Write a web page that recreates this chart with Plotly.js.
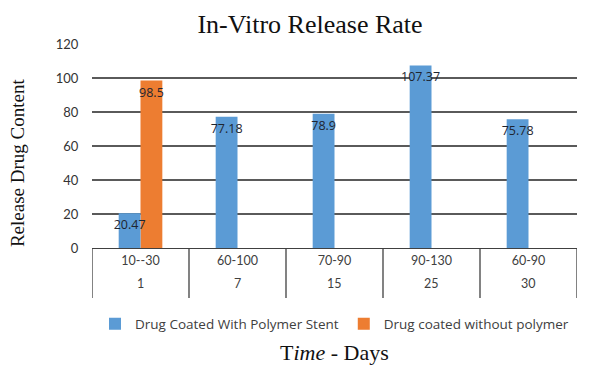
<!DOCTYPE html>
<html>
<head>
<meta charset="utf-8">
<script src="https://cdn.plot.ly/plotly-3.0.1.min.js"></script>
<style>html,body{margin:0;padding:0;background:#fff;}#chart{width:602px;height:373px;}</style>
</head>
<body>
<div id="chart"></div>
<script>
var rangeLabels = ["10--30", "60-100", "70-90", "90-130", "60-90"];
var dayLabels = ["1", "7", "15", "25", "30"];
var withPolymer = [20.47, 77.18, 78.9, 107.37, 75.78];
var withoutPolymer = [98.5, null, null, null, null];
var seriesNames = ["Drug Coated With Polymer Stent", "Drug coated without polymer"];
var yTicks = [0, 20, 40, 60, 80, 100, 120];

function labels(arr) { return arr.map(function (v) { return v === null ? "" : String(v); }); }

var labelFont = "Lato, 'Open Sans', sans-serif";
var legendFont = "'Open Sans', Lato, sans-serif";
var serif = "'Liberation Serif', 'Times New Roman', serif";
var barW = 0.225;

var common = {
  type: "bar",
  x: rangeLabels,
  width: barW,
  textposition: "inside",
  insidetextanchor: "end",
  textangle: 0,
  constraintext: "none",
  textfont: { family: legendFont, size: 12.5, color: "#1e2530" },
  hoverinfo: "skip"
};
// orange drawn first so the blue series' labels sit on top of it
var tOrange = Object.assign({}, common, {
  name: seriesNames[1], y: withoutPolymer, text: labels(withoutPolymer), offset: 0,
  marker: { color: "#ED7D31" }
});
var tBlue = Object.assign({}, common, {
  name: seriesNames[0], y: withPolymer, text: labels(withPolymer), offset: -barW,
  marker: { color: "#5B9BD5" }
});

var annotations = dayLabels.map(function (d, i) {
  return {
    text: d, showarrow: false, xref: "x", yref: "paper", x: rangeLabels[i], y: -0.172,
    xanchor: "center", yanchor: "middle",
    font: { family: labelFont, size: 12.5, color: "#404040" }
  };
});
var shapes = [];
for (var i = 0; i <= rangeLabels.length; i++) {
  shapes.push({
    type: "line", xref: "x", yref: "paper", x0: i - 0.5, x1: i - 0.5, y0: 0, y1: -0.245,
    line: { color: "#404040", width: 1.3 }
  });
}

annotations.push({
  text: "Release Drug Content", textangle: -90, showarrow: false,
  xref: "paper", yref: "paper", x: -0.153, y: 0.42, xanchor: "center", yanchor: "middle",
  font: { family: serif, size: 19, color: "#111" }
});
annotations.push({
  text: "T<i>ime</i> - Days", showarrow: false,
  xref: "paper", yref: "paper", x: 0.5, y: -0.51, xanchor: "center", yanchor: "middle",
  font: { family: serif, size: 22, color: "#111" }
});

var layout = {
  width: 602, height: 373,
  margin: { l: 92, r: 25, t: 44, b: 125 },
  paper_bgcolor: "#ffffff", plot_bgcolor: "#ffffff",
  barmode: "overlay",
  showlegend: true,
  legend: {
    orientation: "h", traceorder: "reversed", x: 0.5, xanchor: "center", y: -0.3725, yanchor: "middle",
    font: { family: legendFont, size: 13.5, color: "#404040" },
    itemwidth: 14, tracegroupgap: 0
  },
  title: {
    text: "In-Vitro Release Rate",
    font: { family: serif, size: 26, color: "#111" },
    x: 0.515, xanchor: "center", xref: "container", y: 0.935, yanchor: "middle", yref: "container"
  },
  xaxis: {
    type: "category", range: [-0.5, rangeLabels.length - 0.5],
    showline: true, linecolor: "#404040", linewidth: 1.3,
    tickfont: { family: labelFont, size: 12.5, color: "#404040" },
    ticks: "outside", ticklen: 1, tickcolor: "rgba(0,0,0,0)",
    showgrid: false, zeroline: false
  },
  yaxis: {
    range: [0, 120], tickvals: yTicks, ticktext: yTicks.map(String),
    showgrid: true, gridcolor: "#5a5a5a", gridwidth: 1.2,
    zeroline: false, showline: false,
    ticks: "outside", ticklen: 10, tickcolor: "rgba(0,0,0,0)",
    tickfont: { family: labelFont, size: 13, color: "#333333" }
  },
  shapes: shapes,
  annotations: annotations
};

Plotly.newPlot("chart", [tOrange, tBlue], layout, { displayModeBar: false, staticPlot: true });
</script>
</body>
</html>
